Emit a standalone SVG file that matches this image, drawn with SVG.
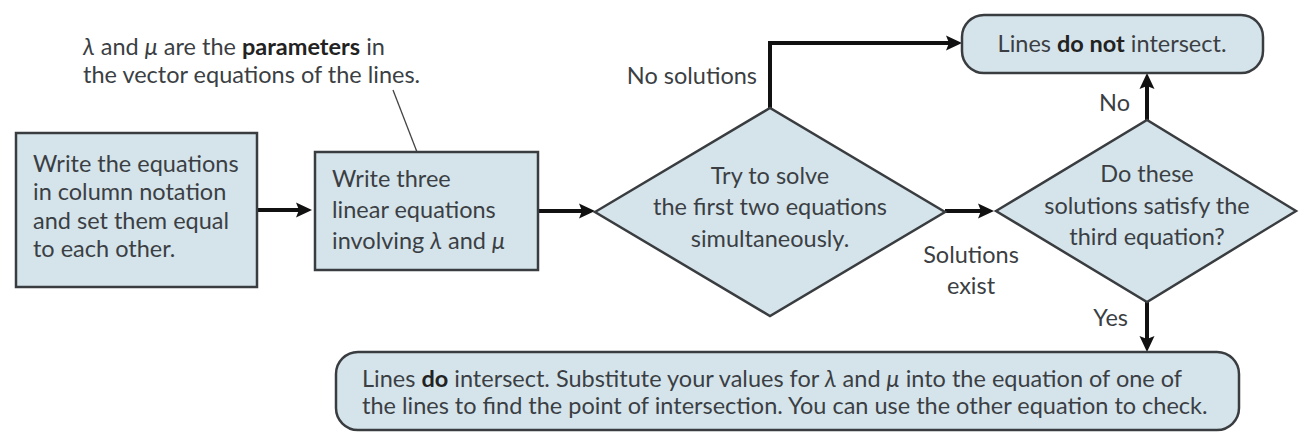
<svg xmlns="http://www.w3.org/2000/svg" width="1300" height="434" viewBox="0 0 1300 434">
<defs>
<style>
.shape{fill:#d5e4eb;stroke:#3a3d40;stroke-width:2.5}
.t{font-family:Lato,"Open Sans","Liberation Sans",sans-serif;font-size:23.5px;fill:#3b3f44}
.c{text-anchor:middle}
.e{text-anchor:end}
.b{font-weight:bold;fill:#222}
.i{font-style:italic}
.conn{fill:none;stroke:#111;stroke-width:4}
.lead{fill:none;stroke:#444;stroke-width:1.3}
</style>
<marker id="ah" markerUnits="userSpaceOnUse" markerWidth="17" markerHeight="17" refX="3" refY="8.5" orient="auto">
<path d="M0,1 L16,8.5 L0,16 L3,8.5 z" fill="#111"/>
</marker>
</defs>
<rect width="1300" height="434" fill="#fff"/>

<g id="connectors">
<line class="conn" x1="257" y1="210" x2="299" y2="210" marker-end="url(#ah)"/>
<line class="conn" x1="538" y1="211" x2="582" y2="211" marker-end="url(#ah)"/>
<line class="conn" x1="945" y1="211" x2="981" y2="211" marker-end="url(#ah)"/>
<path class="conn" d="M770,108 V43 H949" marker-end="url(#ah)"/>
<line class="conn" x1="1147" y1="120" x2="1147" y2="86" marker-end="url(#ah)"/>
<line class="conn" x1="1147" y1="302" x2="1147" y2="339" marker-end="url(#ah)"/>
<line class="lead" x1="393" y1="90" x2="417" y2="152"/>
<text class="t e" x="757" y="84">No solutions</text>
<text class="t c" x="971" y="263">Solutions</text>
<text class="t c" x="971" y="294">exist</text>
<text class="t e" x="1130" y="111">No</text>
<text class="t e" x="1128" y="326">Yes</text>
</g>

<g id="note">
<text class="t" x="83" y="55"><tspan class="i">λ</tspan> and <tspan class="i">μ</tspan> are the <tspan class="b">parameters</tspan> in</text>
<text class="t" x="83" y="83">the vector equations of the lines.</text>
</g>

<g id="n1">
<rect class="shape" x="16" y="133" width="241" height="154"/>
<text class="t" x="33" y="172">Write the equations</text>
<text class="t" x="33" y="200">in column notation</text>
<text class="t" x="33" y="229">and set them equal</text>
<text class="t" x="33" y="257">to each other.</text>
</g>

<g id="n2">
<rect class="shape" x="315" y="152" width="223" height="118"/>
<text class="t" x="332" y="187">Write three</text>
<text class="t" x="332" y="218">linear equations</text>
<text class="t" x="332" y="249">involving <tspan class="i">λ</tspan> and <tspan class="i">μ</tspan></text>
</g>

<g id="n3">
<polygon class="shape" points="595,212 770,108 945,212 770,316"/>
<text class="t c" x="770" y="184">Try to solve</text>
<text class="t c" x="770" y="215">the first two equations</text>
<text class="t c" x="770" y="247">simultaneously.</text>
</g>

<g id="n4">
<rect class="shape" x="962" y="15" width="301" height="58" rx="22"/>
<text class="t c" x="1112" y="52">Lines <tspan class="b">do not</tspan> intersect.</text>
</g>

<g id="n5">
<polygon class="shape" points="996,211 1147,120 1296,211 1147,302"/>
<text class="t c" x="1147" y="182">Do these</text>
<text class="t c" x="1147" y="214">solutions satisfy the</text>
<text class="t c" x="1147" y="245">third equation?</text>
</g>

<g id="n6">
<rect class="shape" x="336" y="352" width="903" height="78" rx="22"/>
<text class="t" x="362" y="387">Lines <tspan class="b">do</tspan> intersect. Substitute your values for <tspan class="i">λ</tspan> and <tspan class="i">μ</tspan> into the equation of one of</text>
<text class="t" x="362" y="414">the lines to find the point of intersection. You can use the other equation to check.</text>
</g>
</svg>
